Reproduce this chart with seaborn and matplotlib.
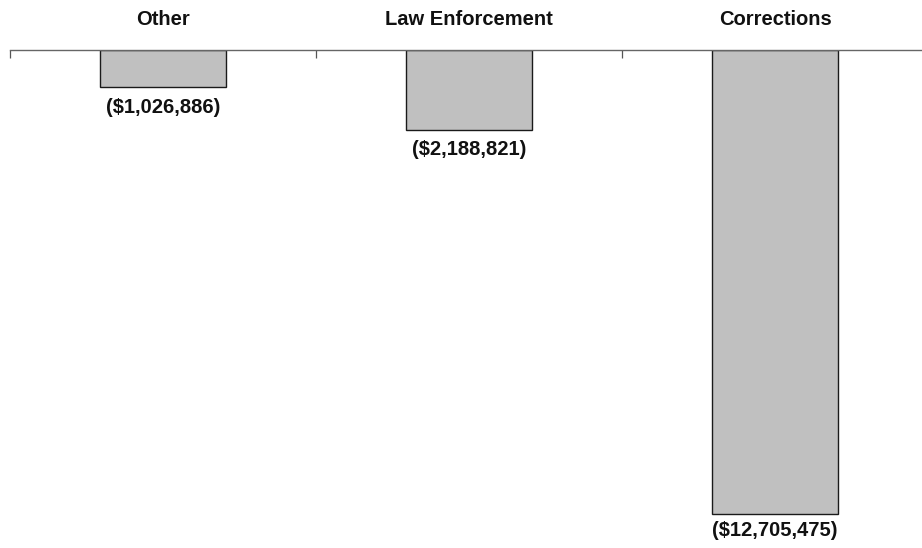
import matplotlib
matplotlib.use("Agg")
import matplotlib.pyplot as plt
import seaborn as sns
import pandas as pd

categories = ["Other", "Law Enforcement", "Corrections"]
values = [-1026886, -2188821, -12705475]
value_labels = ["($1,026,886)", "($2,188,821)", "($12,705,475)"]

sns.set_theme(style="white")
plt.rcParams["font.family"] = ["Liberation Sans", "DejaVu Sans"]

W, H = 922, 548
fig = plt.figure(figsize=(W / 100, H / 100), dpi=100)
# plotting area: x 10..928 px, y 50..540 px (measured from the top)
ax = fig.add_axes([10 / W, (H - 540) / H, 918 / W, 490 / H])

df = pd.DataFrame({"category": categories, "value": values})
sns.barplot(data=df, x="category", y="value", ax=ax, color="#c0c0c0",
            saturation=1, width=0.41, edgecolor="#1a1a1a", linewidth=1.0)

ax.set_xlim(-0.5, 2.5)
ax.set_ylim(-13.42e6, 0)

for s in ["left", "right", "bottom"]:
    ax.spines[s].set_visible(False)
ax.spines["top"].set_color("#666666")
ax.spines["top"].set_linewidth(1.0)

ax.set_yticks([])
ax.set_xlabel("")
ax.set_ylabel("")

# category names above the zero line, small ticks at the category boundaries
ax.xaxis.tick_top()
ax.set_xticks(range(len(categories)))
ax.set_xticklabels(categories, fontsize=14.5, fontweight="bold", color="#111111")
ax.tick_params(axis="x", which="major", length=0, pad=15, top=True, bottom=False)
ax.set_xticks([-0.5, 0.5, 1.5, 2.5], minor=True)
ax.tick_params(axis="x", which="minor", length=6, width=0.9, color="#555555",
               direction="in", top=True, bottom=False)

# value labels under each bar, kept inside the figure
fig.canvas.draw()
for i, (v, lab) in enumerate(zip(values, value_labels)):
    _, ypix = ax.transData.transform((i, v))
    y_text = max(ypix - 20, 17)
    x_fig = fig.transFigure.inverted().transform(ax.transData.transform((i, v)))[0]
    fig.text(x_fig, y_text / H, lab, ha="center", va="center", fontsize=14.5,
             fontweight="bold", color="#111111")

fig.savefig("out.png", dpi=100)
